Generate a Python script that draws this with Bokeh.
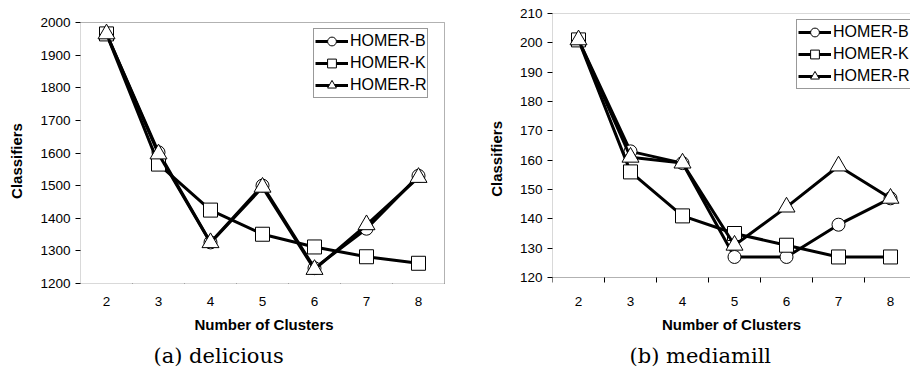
from bokeh.plotting import figure
from bokeh.layouts import row
from bokeh.models import (Range1d, FixedTicker, LinearAxis, Legend, LegendItem,
                          Title, BoxAnnotation)
from bokeh.embed import file_html
from bokeh.resources import INLINE

# Number of classifiers per number of clusters
clusters = [2, 3, 4, 5, 6, 7, 8]

delicious_b = [1965, 1602, 1326, 1500, 1247, 1368, 1530]
delicious_k = [1965, 1566, 1425, 1351, 1312, 1282, 1262]
delicious_r = [1965, 1597, 1325, 1495, 1243, 1380, 1525]

mediamill_b = [201, 163, 159, 127, 127, 138, 147]
mediamill_k = [201, 156, 141, 135, 131, 127, 127]
mediamill_r = [201, 161, 159, 131, 144, 158, 147]

delicious_ticks = list(range(1200, 2001, 100))
mediamill_ticks = list(range(120, 211, 10))

series_names = ["HOMER-B", "HOMER-K", "HOMER-R"]
markers = ["circle", "square", "triangle"]
marker_sizes = [13, 14, 17]

SANS = "Liberation Sans"
SERIF = "DejaVu Serif"
NBSP = "\u00a0"

# Both plots share the same frame top/bottom (frames are aligned in a row);
# the y ranges are stretched so each chart's box sits where it should.
FRAME_TOP, FRAME_BOTTOM = 13, 283
HEIGHT = 381
CAT_PX = 52.0  # pixel width of one cluster slot


def style_y(ax, ticks, label_pad):
    ax.ticker = FixedTicker(ticks=ticks)
    ax.major_tick_in = 0
    ax.major_tick_out = 5
    ax.major_tick_line_color = "black"
    ax.minor_tick_line_color = None
    ax.axis_line_color = None
    ax.major_label_standoff = 5
    ax.major_label_text_font = SANS
    ax.major_label_text_font_size = "13.5px"
    ax.major_label_text_color = "black"
    # trailing no-break spaces push the centred title down along the box
    ax.axis_label = "Classifiers" + NBSP * label_pad
    ax.axis_label_text_font = SANS
    ax.axis_label_text_font_style = "bold"
    ax.axis_label_text_font_size = "15px"
    ax.axis_label_text_color = "black"
    ax.axis_label_standoff = 12


def slot_edges():
    return [c - 0.5 for c in clusters] + [clusters[-1] + 0.5]


def panel(frame_left, frame_right, y_lo, y_hi, y_px_lo, y_px_hi, y_ticks, data,
          caption, caption_offset, caption_standoff, legend_pos, open_right, label_pad):
    width = 455
    frame_w = frame_right - frame_left
    x0 = clusters[0] - 0.5
    x1 = x0 + frame_w / CAT_PX
    # stretch the value range so y_lo/y_hi land on their pixel rows
    per_px = (y_hi - y_lo) / (y_px_lo - y_px_hi)
    y_start = y_lo - (FRAME_BOTTOM - y_px_lo) * per_px
    y_end = y_hi + (y_px_hi - FRAME_TOP) * per_px

    p = figure(width=width, height=HEIGHT, output_backend="svg", toolbar_location=None,
               x_range=Range1d(x0, x1), y_range=Range1d(y_start, y_end),
               min_border_left=frame_left, min_border_right=width - frame_right,
               min_border_top=FRAME_TOP, min_border_bottom=HEIGHT - FRAME_BOTTOM)
    p.grid.visible = False
    p.outline_line_color = None
    p.background_fill_color = "white"
    p.border_fill_color = "white"

    # chart box
    box_right = x1 + 1 if open_right else clusters[-1] + 0.5
    p.add_layout(BoxAnnotation(left=x0, right=box_right, bottom=y_lo, top=y_hi,
                               fill_color=None, fill_alpha=0,
                               line_color="black", line_width=1))

    # bottom axis: cluster labels and axis title
    xa = p.below[0]
    xa.ticker = FixedTicker(ticks=clusters)
    xa.major_tick_in = 0
    xa.major_tick_out = 0
    xa.minor_tick_line_color = None
    xa.axis_line_color = None
    xa.major_label_standoff = 13
    xa.major_label_text_font = SANS
    xa.major_label_text_font_size = "13.5px"
    xa.major_label_text_color = "black"
    xa.axis_label = "Number of Clusters"
    xa.axis_label_text_font = SANS
    xa.axis_label_text_font_style = "bold"
    xa.axis_label_text_font_size = "15px"
    xa.axis_label_text_color = "black"
    xa.axis_label_standoff = 7

    # slot boundary ticks on the value floor
    edge_axis = LinearAxis(fixed_location=y_lo,
                           ticker=FixedTicker(ticks=[], minor_ticks=slot_edges()),
                           major_tick_line_color=None,
                           minor_tick_in=0, minor_tick_out=5,
                           minor_tick_line_color="black",
                           major_label_text_color=None,
                           major_label_text_font_size="0px",
                           axis_line_color=None)
    p.add_layout(edge_axis, "below")

    style_y(p.left[0], y_ticks, label_pad)

    items = []
    for name, marker, size, values in zip(series_names, markers, marker_sizes, data):
        ln = p.line(clusters, values, line_color="black", line_width=3)
        sc = p.scatter(clusters, values, marker=marker, size=size,
                       fill_color="white", line_color="black", line_width=1)
        items.append(LegendItem(label=name, renderers=[ln, sc]))

    legend = Legend(items=items, location=legend_pos, glyph_width=33, glyph_height=22,
                    label_height=22, label_standoff=2, padding=1, spacing=0, margin=0,
                    border_line_color="#333333", border_line_width=1,
                    background_fill_color="white", background_fill_alpha=1.0,
                    label_text_font=SANS, label_text_font_size="16px",
                    label_text_color="black")
    p.add_layout(legend)

    p.add_layout(Title(text=caption, align="left", offset=caption_offset,
                       standoff=caption_standoff, text_font=SERIF,
                       text_font_size="21px", text_font_style="normal",
                       text_color="black"), "below")
    return p


p1 = panel(80, 447, 1200, 2000, 283, 22, delicious_ticks,
           [delicious_b, delicious_k, delicious_r], "(a) delicious", 73, 13,
           (233, 185), False, 6)
p2 = panel(97, 455, 120, 210, 277, 13, mediamill_ticks,
           [mediamill_b, mediamill_k, mediamill_r], "(b) mediamill", 77, 13,
           (244, 194), True, 5)

layout = row(p1, p2, spacing=0)

with open("out.html", "w") as f:
    f.write(file_html(layout, INLINE))
